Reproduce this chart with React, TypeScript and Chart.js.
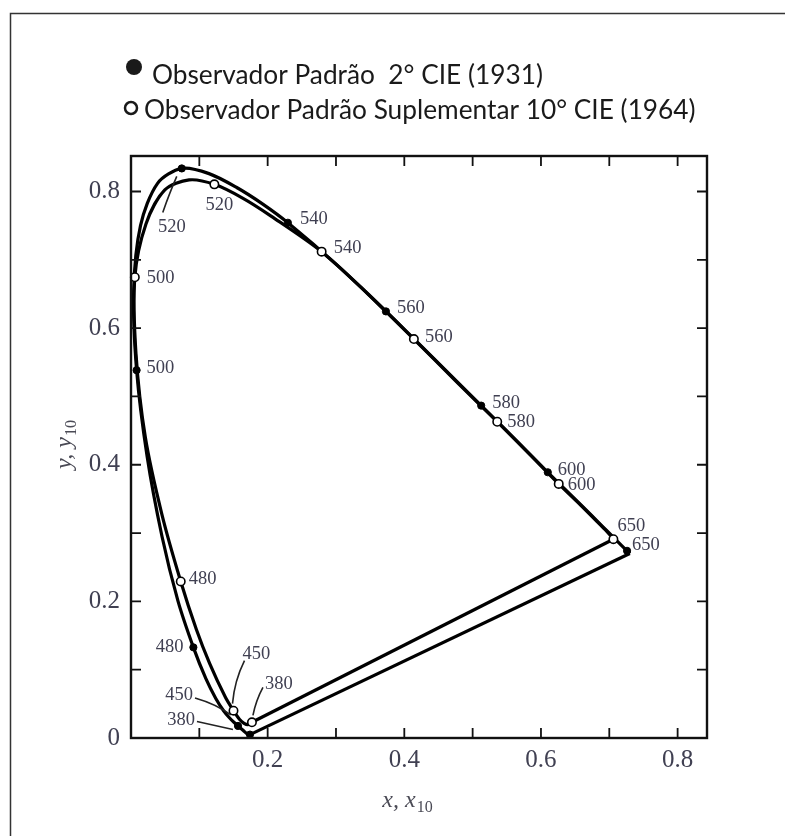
import React, { useEffect, useRef } from "react";
import { Chart, registerables } from "chart.js";

Chart.register(...registerables);

// ---------- data (chromaticity coordinates) ----------
const WL_2 = [380, 400, 420, 430, 440, 450, 455, 460, 465, 470, 475, 480, 485, 490, 495, 500, 505, 510, 515, 520, 525, 530, 535, 540, 550, 560, 570, 580, 590, 600, 610, 620, 630, 640, 650, 700];
const X_2 = [0.1741, 0.1733, 0.1714, 0.1689, 0.1644, 0.1566, 0.151, 0.144, 0.1355, 0.1241, 0.1096, 0.0913, 0.0687, 0.0454, 0.0235, 0.0082, 0.0039, 0.0139, 0.0389, 0.0743, 0.1142, 0.1547, 0.1929, 0.2296, 0.3016, 0.3731, 0.4441, 0.5125, 0.5652, 0.61, 0.6578, 0.6895, 0.7069, 0.7185, 0.726, 0.73];
const Y_2 = [0.005, 0.0048, 0.0051, 0.0069, 0.0109, 0.0177, 0.0227, 0.0297, 0.0399, 0.0578, 0.0868, 0.1327, 0.2007, 0.295, 0.4127, 0.5384, 0.6548, 0.7502, 0.812, 0.8338, 0.8262, 0.8059, 0.7816, 0.7543, 0.6923, 0.6245, 0.5547, 0.4866, 0.4342, 0.389, 0.342, 0.3103, 0.293, 0.2814, 0.274, 0.27];

const WL_10 = [380, 400, 420, 430, 440, 450, 460, 470, 475, 480, 485, 490, 495, 500, 505, 510, 515, 520, 525, 530, 540, 550, 560, 570, 580, 590, 600, 610, 620, 630, 640, 650];
const X_10 = [0.177, 0.176, 0.1706, 0.1655, 0.159, 0.15, 0.138, 0.1152, 0.0957, 0.0728, 0.0452, 0.021, 0.0073, 0.0056, 0.0219, 0.0495, 0.085, 0.122, 0.164, 0.205, 0.279, 0.347, 0.414, 0.478, 0.536, 0.584, 0.626, 0.658, 0.68, 0.694, 0.702, 0.706];
const Y_10 = [0.023, 0.0215, 0.0195, 0.0215, 0.027, 0.04, 0.06, 0.109, 0.1589, 0.2292, 0.3275, 0.4401, 0.5625, 0.6745, 0.7526, 0.8023, 0.817, 0.8105, 0.79, 0.764, 0.712, 0.65, 0.584, 0.52, 0.463, 0.415, 0.372, 0.341, 0.319, 0.305, 0.296, 0.291];

const MARK_WL_2 = [380, 450, 480, 500, 520, 540, 560, 580, 600, 650];
const MARK_WL_10 = [380, 450, 480, 500, 520, 540, 560, 580, 600, 650];

const X_TICKS = [0.2, 0.4, 0.6, 0.8];
const X_TICK_LABELS = ["0.2", "0.4", "0.6", "0.8"];
const Y_TICKS = [0, 0.2, 0.4, 0.6, 0.8];
const Y_TICK_LABELS = ["0", "0.2", "0.4", "0.6", "0.8"];
const MINOR_TICKS = [0.1, 0.2, 0.3, 0.4, 0.5, 0.6, 0.7, 0.8];
const X_RANGE = [0, 0.843];
const Y_RANGE = [0, 0.852];

const LEGEND_LABELS = ["Observador Padrão  2° CIE (1931)", "Observador Padrão Suplementar 10° CIE (1964)"];
const X_TITLE = ["x, x", "10"];
const Y_TITLE = ["y, y", "10"];

// ---------- styles: label placement relative to its marker (px) ----------
type LStyle = { dx: number; dy: number; align: CanvasTextAlign; leader?: number[] };
const LABEL_STYLE_2: Record<number, LStyle> = {
  380: { dx: -55, dy: -14, align: "right", leader: [-53, -13, -35, -9, -17, -5] },
  450: { dx: -45, dy: -31, align: "right", leader: [-43, -28, -22, -22, -7, -11] },
  480: { dx: -10, dy: 0, align: "right" },
  500: { dx: 10, dy: -2, align: "left" },
  520: { dx: -10, dy: 59, align: "center", leader: [-5, 8, -12, 24, -19, 44] },
  540: { dx: 12, dy: -4, align: "left" },
  560: { dx: 11, dy: -3, align: "left" },
  580: { dx: 11, dy: -2, align: "left" },
  600: { dx: 10, dy: -2, align: "left" },
  650: { dx: 5, dy: -6, align: "left" },
};
const LABEL_STYLE_10: Record<number, LStyle> = {
  380: { dx: 13, dy: -38, align: "left", leader: [11, -35, 4, -22, 1, -7] },
  450: { dx: 9, dy: -57, align: "left", leader: [11, -50, 1, -30, -1, -7] },
  480: { dx: 8, dy: -2, align: "left" },
  500: { dx: 12, dy: 1, align: "left" },
  520: { dx: 5, dy: 21, align: "center" },
  540: { dx: 12, dy: -3, align: "left" },
  560: { dx: 11, dy: -2, align: "left" },
  580: { dx: 10, dy: 0, align: "left" },
  600: { dx: 9, dy: 1, align: "left" },
  650: { dx: 4, dy: -13, align: "left" },
};

const SERIF = "'Liberation Serif', 'Times New Roman', serif";
const LABEL_COLOR = "#404052";

function pts(xs: number[], ys: number[]) {
  return xs.map((x, i) => ({ x, y: ys[i] }));
}
function marks(wls: number[], all: number[], xs: number[], ys: number[]) {
  return wls.map((w) => {
    const i = all.indexOf(w);
    return { x: xs[i], y: ys[i], wl: w };
  });
}

const decor = {
  id: "decor",
  beforeDraw(chart: any) {
    const ctx = chart.ctx as CanvasRenderingContext2D;
    ctx.save();
    // page frame
    ctx.strokeStyle = "#333";
    ctx.lineWidth = 1.5;
    ctx.beginPath();
    ctx.moveTo(10.5, 836);
    ctx.lineTo(10.5, 13.5);
    ctx.lineTo(785, 13.5);
    ctx.stroke();
    // legend
    ctx.font = "100px Lato";
    const w = ctx.measureText(LEGEND_LABELS[1]).width;
    const size = (100 * 552) / w;
    ctx.font = `${size}px Lato`;
    ctx.fillStyle = "#1a1a1a";
    ctx.textBaseline = "alphabetic";
    ctx.textAlign = "left";
    ctx.fillText(LEGEND_LABELS[0], 152, 84);
    ctx.fillText(LEGEND_LABELS[1], 144, 119);
    ctx.beginPath();
    ctx.arc(134, 67, 8, 0, Math.PI * 2);
    ctx.fill();
    ctx.beginPath();
    ctx.arc(131, 108, 6, 0, Math.PI * 2);
    ctx.fillStyle = "#fff";
    ctx.fill();
    ctx.strokeStyle = "#1a1a1a";
    ctx.lineWidth = 2.5;
    ctx.stroke();
    ctx.restore();
  },
  afterDatasetsDraw(chart: any) {
    const ctx = chart.ctx as CanvasRenderingContext2D;
    const { left, right, top, bottom } = chart.chartArea;
    const xs = chart.scales.x;
    const ys = chart.scales.y;
    ctx.save();
    // frame
    ctx.strokeStyle = "#111";
    ctx.lineWidth = 2.4;
    ctx.strokeRect(left, top, right - left, bottom - top);
    // inward ticks
    ctx.lineWidth = 1.8;
    ctx.beginPath();
    MINOR_TICKS.forEach((v) => {
      const px = xs.getPixelForValue(v);
      ctx.moveTo(px, bottom);
      ctx.lineTo(px, bottom - 10);
      ctx.moveTo(px, top);
      ctx.lineTo(px, top + 10);
      const py = ys.getPixelForValue(v);
      ctx.moveTo(left, py);
      ctx.lineTo(left + 10, py);
      ctx.moveTo(right, py);
      ctx.lineTo(right - 10, py);
    });
    ctx.stroke();

    // wavelength labels
    const drawSet = (wls: number[], all: number[], xv: number[], yv: number[], st: Record<number, LStyle>) => {
      wls.forEach((wl) => {
        const i = all.indexOf(wl);
        const px = xs.getPixelForValue(xv[i]);
        const py = ys.getPixelForValue(yv[i]);
        const s = st[wl];
        if (!s) return;
        if (s.leader) {
          const l = s.leader;
          ctx.strokeStyle = "#222";
          ctx.lineWidth = 1.6;
          ctx.beginPath();
          ctx.moveTo(px + l[0], py + l[1]);
          ctx.quadraticCurveTo(px + l[2], py + l[3], px + l[4], py + l[5]);
          ctx.stroke();
        }
        ctx.font = `18.5px ${SERIF}`;
        ctx.fillStyle = LABEL_COLOR;
        ctx.textAlign = s.align;
        ctx.textBaseline = "middle";
        ctx.fillText(String(wl), px + s.dx, py + s.dy);
      });
    };
    drawSet(MARK_WL_2, WL_2, X_2, Y_2, LABEL_STYLE_2);
    drawSet(MARK_WL_10, WL_10, X_10, Y_10, LABEL_STYLE_10);

    // axis titles with subscripts
    const drawTitle = (parts: string[], cx: number, cy: number, rot: number) => {
      ctx.save();
      ctx.translate(cx, cy);
      ctx.rotate(rot);
      ctx.fillStyle = "#4a4a55";
      ctx.textBaseline = "alphabetic";
      ctx.textAlign = "left";
      ctx.font = `italic 24px ${SERIF}`;
      const w1 = ctx.measureText(parts[0]).width;
      ctx.font = `16px ${SERIF}`;
      const w2 = ctx.measureText(parts[1]).width;
      const x0 = -(w1 + w2) / 2;
      ctx.font = `italic 24px ${SERIF}`;
      ctx.fillText(parts[0], x0, 7);
      ctx.font = `16px ${SERIF}`;
      ctx.fillText(parts[1], x0 + w1 + 1, 12);
      ctx.restore();
    };
    drawTitle(X_TITLE, (left + right) / 2 - 12, 800, 0);
    drawTitle(Y_TITLE, 64, 445, -Math.PI / 2);
    ctx.restore();
  },
};

export default function App() {
  const ref = useRef<HTMLCanvasElement>(null);
  useEffect(() => {
    const canvas = ref.current!;
    const l2 = pts(X_2, Y_2);
    const l10 = pts(X_10, Y_10);
    const lineBase = {
      showLine: true,
      pointRadius: 0,
      pointHoverRadius: 0,
      borderColor: "#000",
      borderWidth: 3.2,
      fill: false,
      clip: false as any,
    };
    const chart = new Chart(canvas, {
      type: "scatter",
      data: {
        datasets: [
          {
            label: "10",
            data: marks(MARK_WL_10, WL_10, X_10, Y_10),
            pointRadius: 4.2,
            pointBackgroundColor: "#fff",
            pointBorderColor: "#000",
            pointBorderWidth: 1.6,
            showLine: false,
            clip: false as any,
            order: 0,
          },
          {
            label: "2",
            data: marks(MARK_WL_2, WL_2, X_2, Y_2),
            pointRadius: 3.6,
            pointBackgroundColor: "#000",
            pointBorderColor: "#000",
            pointBorderWidth: 1,
            showLine: false,
            clip: false as any,
            order: 1,
          },
          { label: "locus10", data: l10, tension: 0.3, order: 2, ...lineBase },
          { label: "purple10", data: [l10[l10.length - 1], l10[0]], tension: 0, order: 2, ...lineBase },
          { label: "locus2", data: l2, tension: 0.3, order: 3, ...lineBase },
          { label: "purple2", data: [l2[l2.length - 1], l2[0]], tension: 0, order: 3, ...lineBase },
        ] as any,
      },
      options: {
        animation: false,
        responsive: false,
        devicePixelRatio: 1,
        layout: { padding: { left: 11, right: 78, top: 156, bottom: 38 } },
        plugins: { legend: { display: false }, tooltip: { enabled: false } },
        events: [],
        scales: {
          x: {
            type: "linear",
            position: "bottom",
            min: X_RANGE[0],
            max: X_RANGE[1],
            afterFit: (s: any) => {
              s.height = 60;
            },
            afterBuildTicks: (s: any) => {
              s.ticks = X_TICKS.map((v) => ({ value: v }));
            },
            grid: { display: false, drawTicks: false },
            border: { display: false },
            ticks: {
              autoSkip: false,
              maxRotation: 0,
              padding: 7,
              color: LABEL_COLOR,
              font: { family: SERIF, size: 25 },
              callback: (v: any) => X_TICK_LABELS[X_TICKS.indexOf(v)],
            },
          },
          y: {
            type: "linear",
            position: "left",
            min: Y_RANGE[0],
            max: Y_RANGE[1],
            afterFit: (s: any) => {
              s.width = 120;
            },
            afterBuildTicks: (s: any) => {
              s.ticks = Y_TICKS.map((v) => ({ value: v }));
            },
            grid: { display: false, drawTicks: false },
            border: { display: false },
            ticks: {
              autoSkip: false,
              padding: 11,
              color: LABEL_COLOR,
              font: { family: SERIF, size: 25 },
              callback: (v: any) => Y_TICK_LABELS[Y_TICKS.indexOf(v)],
            },
          },
        },
      },
      plugins: [decor],
    });
    return () => chart.destroy();
  }, []);
  return (
    <canvas
      ref={ref}
      width={785}
      height={836}
      style={{ position: "fixed", left: 0, top: 0, background: "#fff" }}
    />
  );
}
